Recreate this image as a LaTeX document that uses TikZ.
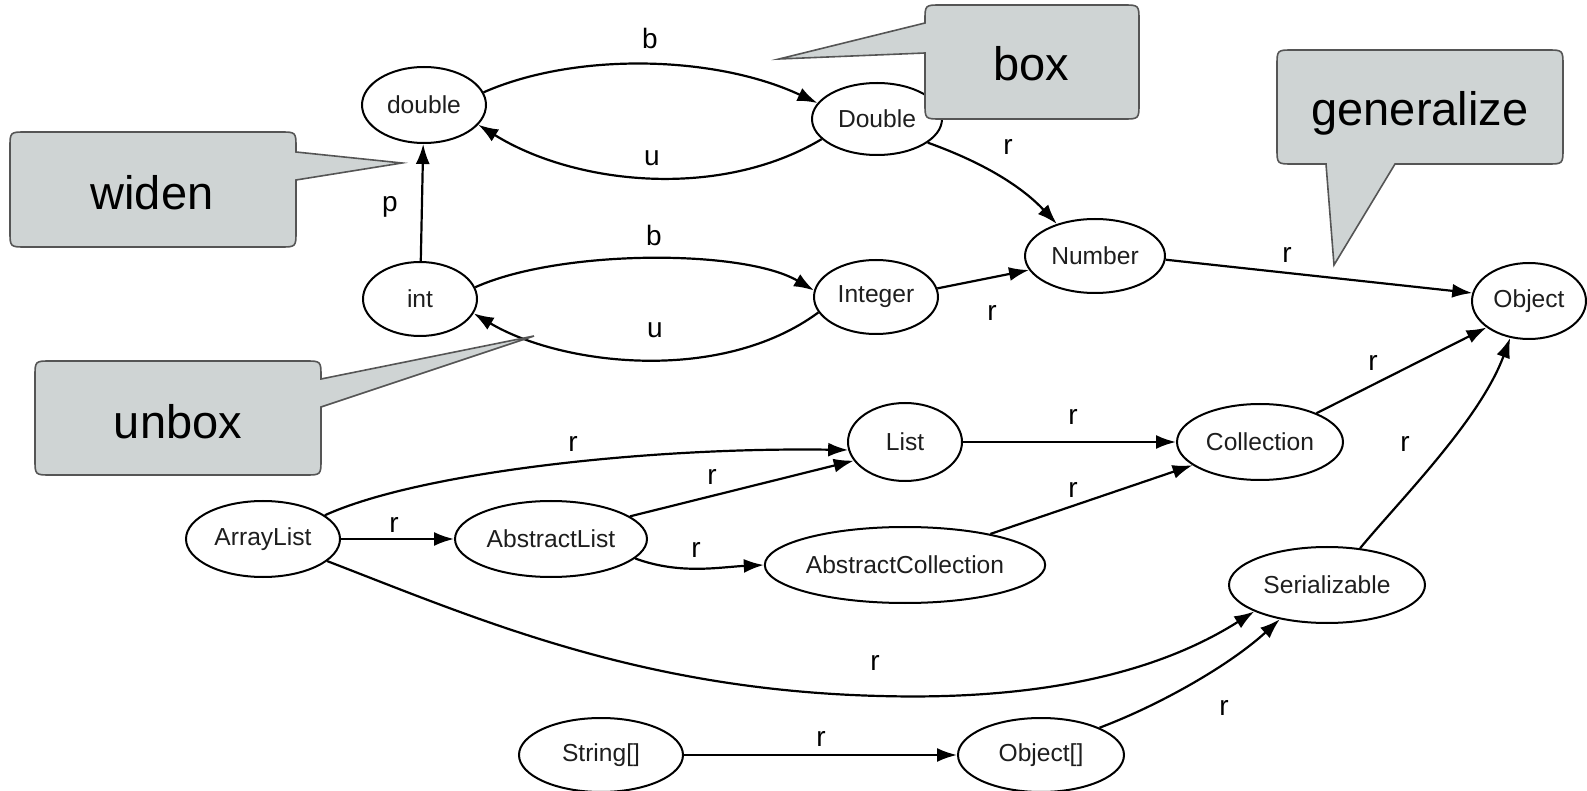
\documentclass[tikz,border=0pt]{standalone}
\usepackage{fontspec}
\setmainfont{Liberation Sans}
\usetikzlibrary{arrows.meta,shapes.geometric}
\definecolor{callfill}{RGB}{207,212,212}
\definecolor{callline}{RGB}{85,85,85}
\definecolor{nodetext}{RGB}{30,30,30}
\begin{document}
\begin{tikzpicture}[x=0.5pt,y=-0.5pt,
  gnode/.style={ellipse, draw=black, line width=1pt, inner sep=0pt, text=nodetext, font=\fontsize{12.3}{14}\selectfont},
  edge/.style={draw=black, line width=1.1pt, -{Latex[length=10pt,width=7pt]}},
  lbl/.style={font=\fontsize{14}{16}\selectfont, inner sep=0pt},
  callout/.style={fill=callfill, draw=callline, line width=0.8pt, line join=miter},
  calltext/.style={font=\fontsize{23.5}{28}\selectfont, inner sep=0pt},
]
\useasboundingbox (0,0) rectangle (1587,791);

% nodes
\node[gnode, minimum width=62pt, minimum height=38pt] (double) at (424,105) {double};
\node[gnode, minimum width=65pt, minimum height=36pt] (Double) at (877,119) {Double};
\node[gnode, minimum width=57pt, minimum height=37pt] (int) at (420,299) {int};
\node[gnode, minimum width=62pt, minimum height=37pt] (Integer) at (876,297) {Integer};
\node[gnode, minimum width=70pt, minimum height=37pt] (Number) at (1095,256) {Number};
\node[gnode, minimum width=57pt, minimum height=38pt] (Object) at (1529,301) {Object};
\node[gnode, minimum width=57pt, minimum height=39pt] (List) at (905,442) {List};
\node[gnode, minimum width=83pt, minimum height=38pt] (Collection) at (1260,442) {Collection};
\node[gnode, minimum width=77pt, minimum height=38pt] (ArrayList) at (263,539) {ArrayList};
\node[gnode, minimum width=96pt, minimum height=38pt] (AbstractList) at (551,539) {AbstractList};
\node[gnode, minimum width=140pt, minimum height=38pt] (AbstractCollection) at (905,565) {AbstractCollection};
\node[gnode, minimum width=98pt, minimum height=38pt] (Serializable) at (1327,585) {Serializable};
\node[gnode, minimum width=82pt, minimum height=37pt] (str) at (601,755) {String[]};
\node[gnode, minimum width=83pt, minimum height=37pt] (objarr) at (1041,755) {Object[]};

% edges
\draw[edge] (double.12) .. controls (575,52) and (715,55) .. (Double.165);
\draw[edge] (Double.200) .. controls (720,200) and (575,185) .. (double.-20);
\draw[edge] (int) -- (double);
\draw[edge] (int.12) .. controls (560,249) and (744,249) .. (Integer.174);
\draw[edge] (Integer.195) .. controls (720,385) and (560,365) .. (int.-15);
\draw[edge] (Double.-25) .. controls (990,165) and (1025,190) .. (Number.140);
\draw[edge] (Integer.8) -- (Number.192);
\draw[edge] (Number.-3) -- (Object.172);
\draw[edge] (List) -- (Collection);
\draw[edge] (AbstractCollection.20) -- (Collection.199);
\draw[edge] (Collection.27) -- (Object.212);
\draw[edge] (Serializable.48) .. controls (1400,500) and (1480,420) .. (Object.243);
\draw[edge] (ArrayList.21) .. controls (420,472) and (650,447) .. (List.188);
\draw[edge] (AbstractList.16) -- (List.200);
\draw[edge] (ArrayList) -- (AbstractList);
\draw[edge] (AbstractList.-13) .. controls (680,575) and (720,567) .. (AbstractCollection.west);
\draw[edge] (ArrayList.-19) .. controls (480,620) and (640,690) .. (880,696) .. controls (1060,701) and (1170,665) .. (Serializable.200);
\draw[edge] (str) -- (objarr);
\draw[edge] (objarr.25) .. controls (1160,705) and (1230,665) .. (Serializable.216);

% labels
\node[lbl] (lb1) at (650,38) {b};
\node[lbl] (lu1) at (652,158) {u};
\node[lbl] (lp) at (390,207) {p};
\node[lbl] (lb2) at (654,235) {b};
\node[lbl] (lu2) at (655,330) {u};
\node[lbl] (lr1) at (1008,147) {r};
\node[lbl] (lr2) at (992,313) {r};
\node[lbl] (lr3) at (1287,255) {r};
\node[lbl] (lr4) at (1073,417) {r};
\node[lbl] (lr5) at (1073,490) {r};
\node[lbl] (lr6) at (1373,363) {r};
\node[lbl] (lr7) at (1405,444) {r};
\node[lbl] (lr8) at (573,444) {r};
\node[lbl] (lr9) at (712,477) {r};
\node[lbl] (lr10) at (394,525) {r};
\node[lbl] (lr11) at (696,550) {r};
\node[lbl] (lr12) at (875,663) {r};
\node[lbl] (lr13) at (821,739) {r};
\node[lbl] (lr14) at (1224,708) {r};

% callouts
\draw[callout] (26,132) -- (280,132) .. controls (296,132) .. (296,148) -- (296,152) -- (402,163) -- (296,180) -- (296,231) .. controls (296,247) .. (280,247) -- (26,247) .. controls (10,247) .. (10,231) -- (10,148) .. controls (10,132) .. (26,132) -- cycle;
\node[calltext] (twiden) at (152,193) {widen};

\draw[callout] (51,361) -- (305,361) .. controls (321,361) .. (321,377) -- (321,379) -- (534,336) -- (321,407) -- (321,459) .. controls (321,475) .. (305,475) -- (51,475) .. controls (35,475) .. (35,459) -- (35,377) .. controls (35,361) .. (51,361) -- cycle;
\node[calltext] (tunbox) at (178,422) {unbox};

\draw[callout] (941,5) -- (1123,5) .. controls (1139,5) .. (1139,21) -- (1139,103) .. controls (1139,119) .. (1123,119) -- (941,119) .. controls (925,119) .. (925,103) -- (925,53) -- (779,59) -- (925,23) -- (925,21) .. controls (925,5) .. (941,5) -- cycle;
\node[calltext] (tbox) at (1031,64) {box};

\draw[callout] (1293,50) -- (1547,50) .. controls (1563,50) .. (1563,66) -- (1563,148) .. controls (1563,164) .. (1547,164) -- (1395,164) -- (1334,265) -- (1326,164) -- (1293,164) .. controls (1277,164) .. (1277,148) -- (1277,66) .. controls (1277,50) .. (1293,50) -- cycle;
\node[calltext] (tgen) at (1420,113) {generalize};
\end{tikzpicture}
\end{document}
